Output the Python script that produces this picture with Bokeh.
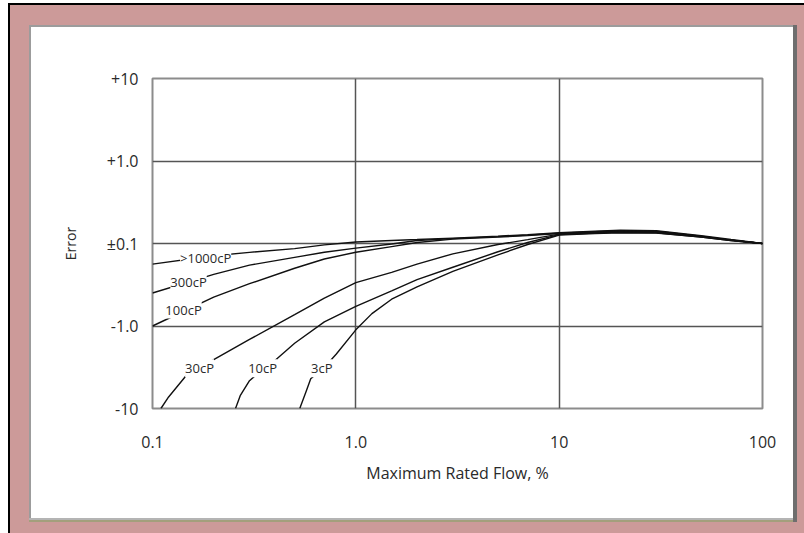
import numpy as np
from bokeh.plotting import figure
from bokeh.models import Range1d, FixedTicker
from bokeh.core.properties import value
from bokeh.embed import file_html
from bokeh.resources import INLINE

# ---- data: flow (% of maximum rated flow) vs error (%) per viscosity ----
flow_hi = [0.1, 0.2, 0.3, 0.5, 0.7, 1, 1.5, 2, 3, 5, 7, 10, 15, 20, 30, 50, 70, 100]
err_1000 = [-0.178, -0.141, -0.128, -0.1155, -0.104, 0.1042, 0.1086, 0.1116, 0.1163,
            0.1228, 0.128, 0.1352, 0.1409, 0.1448, 0.1428, 0.1245, 0.1116, 0.100]
err_300 = [-0.398, -0.237, -0.183, -0.1475, -0.1277, -0.1138, -0.1014, 0.1086, 0.1147,
           0.1212, 0.1262, 0.1334, 0.139, 0.1428, 0.1409, 0.1228, 0.110, 0.100]
err_100 = [-1.0, -0.4467, -0.307, -0.1995, -0.154, -0.1277, -0.109, 0.1028, 0.1131,
           0.1195, 0.1245, 0.1316, 0.1371, 0.1409, 0.139, 0.1212, 0.110, 0.100]

flow_30 = [0.11, 0.12, 0.15, 0.2, 0.3, 0.5, 0.7, 1, 1.5, 2, 3, 5, 7, 10, 15, 20, 30, 50, 70, 100]
err_30 = [-10, -7.25, -3.714, -2.553, -1.455, -0.7286, -0.4597, -0.2985, -0.2239, -0.1778,
          -0.1334, -0.1029, 0.1116, 0.1298, 0.1352, 0.139, 0.1371, 0.1212, 0.110, 0.100]

flow_10 = [0.256, 0.27, 0.3, 0.35, 0.4, 0.5, 0.7, 1, 1.5, 2, 3, 5, 7, 10, 15, 20, 30, 50, 70, 100]
err_10 = [-10, -7.0, -4.6, -3.3, -2.622, -1.62, -0.8913, -0.5788, -0.3758, -0.2739,
          -0.1939, -0.1259, 0.1028, 0.128, 0.1334, 0.1371, 0.1352, 0.1195, 0.1086, 0.100]

flow_3 = [0.53, 0.57, 0.6, 0.7, 0.8, 1, 1.2, 1.5, 2, 3, 5, 7, 10, 15, 20, 30, 50, 70, 100]
err_3 = [-10, -6.17, -4.36, -3.162, -2.2, -1.113, -0.708, -0.4732, -0.335, -0.2176,
         -0.1373, -0.1029, 0.1262, 0.1316, 0.1352, 0.1334, 0.1195, 0.1086, 0.100]

curve_labels = [">1000cP", "300cP", "100cP", "30cP", "10cP", "3cP"]
label_flow = [0.1825, 0.1504, 0.1421, 0.1704, 0.348, 0.680]
label_err = [-0.1496, -0.290, -0.631, -3.25, -3.25, -3.25]

x_ticks = [0.1, 1, 10, 100]
x_tick_labels = ["0.1", "1.0", "10", "100"]
y_tick_values = [-10, -1.0, 0.1, 1.0, 10]
y_tick_labels = ["-10", "-1.0", "\u00b10.1", "+1.0", "+10"]


def to_axis(errs):
    """Signed log-magnitude error scale: -10 | -1 | +/-0.1 | +1 | +10 decades."""
    e = np.asarray(errs, dtype=float)
    return np.where(e > 0, 3 + np.log10(np.abs(e)), 1 - np.log10(np.abs(e)))


y_ticks = [float(v) for v in to_axis(y_tick_values)]

FONT = value("Open Sans")
TXT = "#2a2a2a"
PINK = "#cc9a99"
W, H = 804, 533


def layer(color, x, y, w, h):
    return f"linear-gradient({color},{color}) {x}px {y}px / {w}px {h}px no-repeat"


frame_css = ", ".join([
    layer("#ffffff", 31, 27, 762, 491),   # white panel
    layer("#6e6e6e", 793, 25, 4, 497),    # right panel edge
    layer("#a39f7c", 29, 520, 768, 2),    # bottom panel edge
    layer("#b4b4b4", 29, 518, 768, 2),
    layer("#9c9c9c", 29, 25, 768, 497),   # left / top panel edge
    layer(PINK, 10, 5, 794, 528),         # pink mat
    layer("#000000", 8, 3, 796, 530),     # black rule
    "#ffffff",
])

p = figure(width=W, height=H, x_axis_type="log",
           x_range=Range1d(0.1, 100), y_range=Range1d(0, 4),
           output_backend="svg", toolbar_location=None,
           min_border_left=152, min_border_right=42,
           min_border_top=78, min_border_bottom=125)
p.styles = {"background": frame_css}

p.border_fill_color = None
p.background_fill_color = "white"
p.outline_line_color = "#8c8c8c"
p.outline_line_width = 2

# grids
p.xgrid.ticker = FixedTicker(ticks=[1, 10])
p.ygrid.ticker = FixedTicker(ticks=[1.0, 2.0, 3.0])
p.grid.grid_line_color = "#555555"
p.grid.grid_line_width = 1.5

# axes
p.xaxis.ticker = FixedTicker(ticks=x_ticks, minor_ticks=[])
p.xaxis.major_label_overrides = dict(zip(x_ticks, x_tick_labels))
p.yaxis.ticker = FixedTicker(ticks=y_ticks, minor_ticks=[])
p.yaxis.major_label_overrides = dict(zip(y_ticks, y_tick_labels))
for ax in (p.xaxis, p.yaxis):
    ax.axis_line_color = None
    ax.major_tick_line_color = None
    ax.minor_tick_line_color = None
    ax.major_tick_out = 0
    ax.major_tick_in = 0
    ax.minor_tick_out = 0
    ax.major_label_text_font = "Open Sans"
    ax.major_label_text_font_size = "16px"
    ax.major_label_text_color = TXT
    ax.axis_label_text_font = "Open Sans"
    ax.axis_label_text_font_style = "normal"
    ax.axis_label_text_color = TXT
p.xaxis.major_label_standoff = 27
p.xaxis.axis_label = "Maximum Rated Flow, %"
p.xaxis.axis_label_text_font_size = "16px"
p.xaxis.axis_label_standoff = 11
p.yaxis.major_label_standoff = 14
p.yaxis.axis_label = "Error"
p.yaxis.axis_label_text_font_size = "14px"
p.yaxis.axis_label_standoff = 24

# curves
for fl, er in [(flow_hi, err_1000), (flow_hi, err_300), (flow_hi, err_100),
               (flow_30, err_30), (flow_10, err_10), (flow_3, err_3)]:
    p.line(fl, to_axis(er), line_color="#111111", line_width=1.4)

p.text(x=label_flow, y=to_axis(label_err), text=curve_labels,
       text_font=FONT, text_font_size="13px", text_color=TXT,
       text_align="center", text_baseline="middle",
       background_fill_color="white")

open("out.html", "w").write(file_html(p, INLINE))
